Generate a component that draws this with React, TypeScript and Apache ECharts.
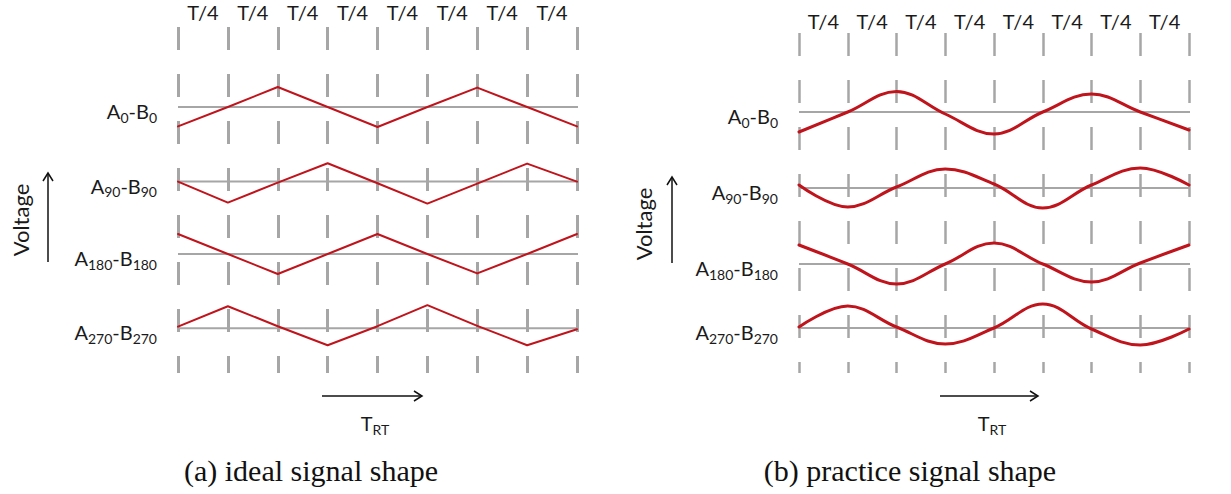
import React, { useEffect, useRef } from 'react';
import * as echarts from 'echarts';

// ---- data (quarter-period grid, voltages in units of one signal amplitude) ----
const quarterTicks = [0, 1, 2, 3, 4, 5, 6, 7, 8];
const quarterLabels = ['T/4', 'T/4', 'T/4', 'T/4', 'T/4', 'T/4', 'T/4', 'T/4'];
const phases = ['0', '90', '180', '270'];

// (a) ideal signal shape
const idealBaselines = [13.3, 9.57, 5.95, 2.24];
const idealA0 = [-0.97, 0, 1.0, 0, -1.0, 0, 0.97, 0, -0.97];
const idealA90 = [0, -1.05, -0.05, 0.92, -0.08, -1.1, -0.1, 0.9, 0];
const idealA180 = [1.0, 0, -1.0, 0, 1.0, 0, -0.97, 0, 1.0];
const idealA270 = [0.08, 1.1, 0.1, -0.85, 0.1, 1.15, 0.12, -0.85, -0.05];
const idealBaselineEnd = 8.7;

// (b) practice signal shape
const practiceBaselines = [13.05, 9.25, 5.45, 2.25];
const practiceA0 = [-1.0, 0, 1.03, -0.1, -1.1, 0, 0.9, 0, -0.9];
const practiceA90 = [0.15, -0.95, 0.05, 0.95, 0.2, -1.0, 0.15, 1.0, 0.15];
const practiceA180 = [0.95, 0, -1.0, 0, 1.05, 0, -0.9, 0.05, 0.95];
const practiceA270 = [0.05, 1.1, 0.05, -0.8, 0, 1.2, -0.05, -0.85, -0.05];
const practiceBaselineEnd = 8.9;

const captions = ['(a) ideal signal shape', '(b) practice signal shape'];
const axisWords = { voltage: 'Voltage', time: 'T', timeSub: 'RT' };

const RED = '#c0141c';
const GRAY = '#a6a6a6';
const TEXT = '#1a1a1a';
const SANS = 'Lato';

const rich = {
  m: { fontSize: 20, fontFamily: SANS, color: TEXT, lineHeight: 26, verticalAlign: 'middle' },
  s: { fontSize: 14, fontFamily: SANS, color: TEXT, verticalAlign: 'bottom' },
};

function baselineSeries(gridIdx: number, base: number, end: number, phase: string) {
  return {
    type: 'line',
    name: `A${phase}-B${phase} baseline ${gridIdx}`,
    xAxisIndex: gridIdx,
    yAxisIndex: gridIdx,
    clip: false,
    symbol: 'circle',
    symbolSize: 0,
    showSymbol: true,
    silent: true,
    z: 2,
    lineStyle: { color: GRAY, width: 2 },
    itemStyle: { color: GRAY },
    data: [
      {
        value: [0, base],
        label: {
          show: true,
          position: 'left',
          distance: 21,
          offset: [0, 4],
          formatter: `{m|A}{s|${phase}}{m|-B}{s|${phase}}`,
          rich,
        },
      },
      { value: [end, base], label: { show: false } },
    ],
  };
}

function signalSeries(gridIdx: number, base: number, vals: number[], smooth: number | boolean, width: number) {
  return {
    type: 'line',
    xAxisIndex: gridIdx,
    yAxisIndex: gridIdx,
    symbol: 'none',
    silent: true,
    smooth,
    z: 3,
    lineStyle: { color: RED, width, cap: 'round', join: 'round' },
    data: quarterTicks.map((t, i) => [t, base + vals[i]]),
  };
}

function valueX(gridIndex: number, width: number) {
  return {
    gridIndex,
    type: 'value',
    min: 0,
    max: 8,
    interval: 1,
    axisLine: { show: false },
    axisTick: { show: false },
    axisLabel: { show: false },
    splitLine: { show: true, lineStyle: { color: GRAY, width, type: [23, 24] } },
  };
}

function catX(gridIndex: number, margin: number) {
  return {
    gridIndex,
    type: 'category',
    position: 'top',
    data: quarterLabels,
    boundaryGap: true,
    axisLine: { show: false },
    axisTick: { show: false },
    splitLine: { show: false },
    axisLabel: { interval: 0, margin, color: TEXT, fontFamily: SANS, fontSize: 20 },
  };
}

function arrowUp(x: number, y1: number, y2: number) {
  return [
    { type: 'line', shape: { x1: x, y1, x2: x, y2 }, style: { stroke: '#111', lineWidth: 1.5 } },
    { type: 'polyline', shape: { points: [[x - 5, y2 + 8], [x, y2], [x + 5, y2 + 8]] }, style: { stroke: '#111', lineWidth: 1.5, fill: null } },
  ];
}
function arrowRight(y: number, x1: number, x2: number) {
  return [
    { type: 'line', shape: { x1, y1: y, x2, y2: y }, style: { stroke: '#111', lineWidth: 1.5 } },
    { type: 'polyline', shape: { points: [[x2 - 8, y - 5], [x2, y], [x2 - 8, y + 5]] }, style: { stroke: '#111', lineWidth: 1.5, fill: null } },
  ];
}

export default function App() {
  const ref = useRef<HTMLDivElement>(null);
  useEffect(() => {
    if (!ref.current) return;
    const chart = echarts.init(ref.current, undefined, { renderer: 'svg' });
    const ideal = [idealA0, idealA90, idealA180, idealA270];
    const practice = [practiceA0, practiceA90, practiceA180, practiceA270];
    const series: any[] = [];
    phases.forEach((ph, i) => {
      series.push(baselineSeries(0, idealBaselines[i], idealBaselineEnd, ph));
      series.push(signalSeries(0, idealBaselines[i], ideal[i], false, 2));
      series.push(baselineSeries(1, practiceBaselines[i], practiceBaselineEnd, ph));
      series.push(signalSeries(1, practiceBaselines[i], practice[i], 0.38, 3));
    });
    const subRich = {
      m: { fontSize: 20, fontFamily: SANS, fill: TEXT, lineHeight: 26, verticalAlign: 'middle' },
      s: { fontSize: 14, fontFamily: SANS, fill: TEXT, verticalAlign: 'bottom' },
    };
    const option: any = {
      animation: false,
      backgroundColor: '#ffffff',
      grid: [
        { left: 178, top: 27, width: 399, height: 346, outerBoundsMode: 'none' },
        { left: 799, top: 33, width: 390, height: 340, outerBoundsMode: 'none' },
      ],
      xAxis: [valueX(0, 3), valueX(1, 2.5), catX(0, 5), catX(1, 2)],
      yAxis: [
        { gridIndex: 0, type: 'value', min: 0, max: 17.3, show: false },
        { gridIndex: 1, type: 'value', min: 0, max: 17.0, show: false },
      ],
      series,
      graphic: [
        { type: 'text', x: 20, y: 220, rotation: Math.PI / 2, style: { text: axisWords.voltage, x: 0, y: 0, align: 'center', verticalAlign: 'middle', font: `22px ${SANS}`, fill: TEXT } },
        { type: 'text', x: 643, y: 224, rotation: Math.PI / 2, style: { text: axisWords.voltage, x: 0, y: 0, align: 'center', verticalAlign: 'middle', font: `22px ${SANS}`, fill: TEXT } },
        ...arrowUp(48, 262, 173),
        ...arrowUp(672, 263, 177),
        ...arrowRight(396, 322, 422),
        ...arrowRight(396, 940, 1038),
        { type: 'text', x: 375, y: 423, style: { text: `{m|${axisWords.time}}{s|${axisWords.timeSub}}`, rich: subRich, align: 'center', verticalAlign: 'middle' } },
        { type: 'text', x: 992, y: 423, style: { text: `{m|${axisWords.time}}{s|${axisWords.timeSub}}`, rich: subRich, align: 'center', verticalAlign: 'middle' } },
        { type: 'text', x: 311, y: 470, style: { text: captions[0], align: 'center', verticalAlign: 'middle', font: `30px "Liberation Serif"`, fill: '#111' } },
        { type: 'text', x: 910, y: 470, style: { text: captions[1], align: 'center', verticalAlign: 'middle', font: `30px "Liberation Serif"`, fill: '#111' } },
      ],
    };
    chart.setOption(option);
    return () => chart.dispose();
  }, []);
  return (
    <div
      ref={ref}
      style={{ position: 'fixed', left: 0, top: 0, width: 1231, height: 494, background: '#fff' }}
    />
  );
}
